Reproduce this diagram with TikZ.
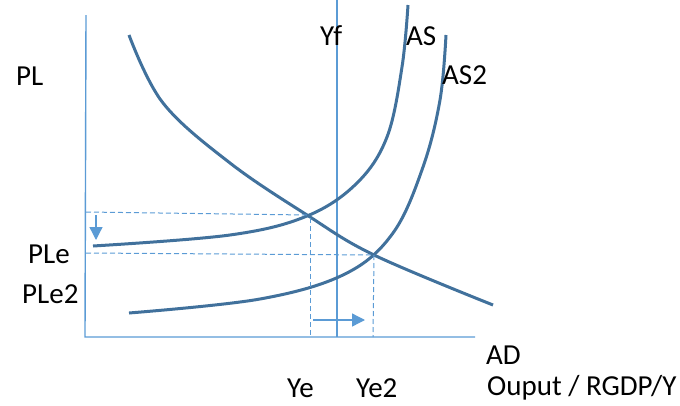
\documentclass[tikz,border=0pt]{standalone}
\usepackage{fontspec}
\setmainfont{Carlito}
\usepackage{tikz}
\usetikzlibrary{arrows.meta}
\definecolor{curveblue}{RGB}{65,113,156}
\definecolor{lineblue}{RGB}{91,155,213}

\begin{document}
\begin{tikzpicture}[x=1pt,y=-1pt]
  \tikzset{
    lbl/.style={font=\fontsize{29}{34}\selectfont,anchor=west,inner sep=0pt},
    curve/.style={curveblue,line width=3pt},
    guide/.style={lineblue,line width=1pt,dash pattern=on 5pt off 3pt},
    movearrow/.style={lineblue,line width=1.3pt,-{Triangle[length=13pt,width=13pt]}}
  }
  \useasboundingbox (0,0) rectangle (680,405);
  % axes and full employment line
  \coordinate (o) at (85,337);
  \coordinate (ytop) at (86,15);
  \coordinate (xend) at (475,337);
  \draw[lineblue,line width=1.4pt] (ytop) -- (o) -- (xend);
  \coordinate (yfTop) at (337,0);
  \coordinate (yfBot) at (337,337);
  \draw[lineblue,line width=1.4pt] (yfTop) -- (yfBot);
  % equilibrium points
  \coordinate (e1) at (307,215);
  \coordinate (e2) at (374,255);
  % curves
  \draw[curve] plot[smooth,tension=0.6] coordinates {(129,35) (163,103) (230,163) (307,215) (374,255) (493,305)};
  \draw[curve] plot[smooth,tension=0.6] coordinates {(93,246) (230,235) (307,216) (357,183) (387,137) (402,67) (408,5)};
  \draw[curve] plot[smooth,tension=0.6] coordinates {(129,313) (260,299) (345,274) (393,233) (423,167) (440,100) (446,35)};
  % dashed guides
  \coordinate (pleA) at (86,212);
  \coordinate (pleB) at (86,253);
  \coordinate (yeT) at (310,218);
  \coordinate (yeB) at (310,337);
  \coordinate (ye2B) at (373,337);
  \draw[guide] (pleA) -- (e1);
  \draw[guide] (yeT) -- (yeB);
  \draw[guide] (pleB) -- (e2);
  \draw[guide] (e2) -- (ye2B);
  % shift arrows
  \coordinate (dnA) at (96,215);
  \coordinate (dnB) at (96,240);
  \coordinate (rtA) at (313,320);
  \coordinate (rtB) at (365,320);
  \draw[movearrow] (dnA) -- (dnB);
  \draw[movearrow] (rtA) -- (rtB);
  % labels
  \node[lbl] (pl) at (16,76) {PL};
  \node[lbl] (yf) at (320,36) {Yf};
  \node[lbl] (as) at (406,36) {AS};
  \node[lbl] (as2) at (442,75) {AS2};
  \node[lbl] (ple) at (28,254) {PLe};
  \node[lbl] (ple2) at (22,294) {PLe2};
  \node[lbl] (ad) at (486,355) {AD};
  \node[lbl] (ye) at (287,388) {Ye};
  \node[lbl] (ye2) at (356,388) {Ye2};
  \node[lbl] (out) at (487,388) {Ouput / RGDP/Y};
\end{tikzpicture}
\end{document}
